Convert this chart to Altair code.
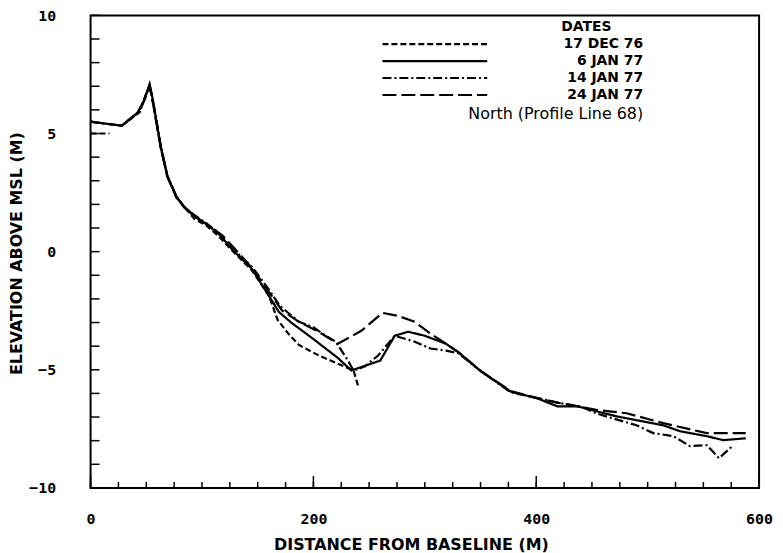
import altair as alt
import pandas as pd

# ---------------- data ----------------
DATES = ["17 DEC 76", "6 JAN 77", "14 JAN 77", "24 JAN 77"]

dec17_start_x = [0, 17]
dec17_start_y = [5.0, 5.0]
dec17_x = [28, 44, 50, 53, 56, 63, 69, 77, 84, 93, 104, 115, 127, 145, 160, 168, 178, 187, 205, 222, 236, 240]
dec17_y = [5.33, 5.9, 6.7, 7.0, 6.3, 4.4, 3.2, 2.3, 1.9, 1.4, 1.1, 0.65, 0.05, -0.8, -1.85, -2.9, -3.5, -3.95,
           -4.4, -4.74, -5.03, -5.66]

jan6_x = [0, 28, 42, 48, 53, 56, 63, 69, 77, 84, 93, 104, 115, 127, 145, 160, 169, 180, 200, 222, 234, 260, 273,
          285, 300, 319, 330, 350, 377, 401, 419, 437, 472, 514, 529, 553, 568, 588]
jan6_y = [5.5, 5.33, 5.87, 6.4, 7.1, 6.4, 4.44, 3.18, 2.34, 1.87, 1.5, 1.16, 0.75, 0.1, -0.74, -1.87, -2.55, -3.0,
          -3.7, -4.5, -5.03, -4.61, -3.56, -3.39, -3.56, -3.9, -4.25, -5.05, -5.92, -6.21, -6.55, -6.55, -6.97,
          -7.35, -7.6, -7.81, -7.98, -7.9]

jan14_x = [0, 28, 42, 48, 53, 56, 63, 69, 77, 84, 93, 104, 115, 127, 145, 160, 170, 187, 200, 211, 220, 231, 236,
           246, 258, 273, 291, 305, 319, 330, 350, 377, 401, 420, 440, 454, 490, 505, 523, 538, 553, 564, 577]
jan14_y = [5.5, 5.33, 5.85, 6.4, 7.05, 6.4, 4.5, 3.2, 2.35, 1.9, 1.55, 1.2, 0.8, 0.15, -0.65, -1.6, -2.3, -2.97,
           -3.2, -3.56, -3.81, -4.61, -5.03, -4.86, -4.4, -3.56, -3.81, -4.1, -4.19, -4.3, -5.05, -5.95, -6.2,
           -6.4, -6.55, -6.85, -7.35, -7.68, -7.81, -8.23, -8.19, -8.74, -8.19]

jan24_x = [0, 28, 44, 50, 53, 56, 63, 69, 77, 85, 95, 106, 118, 128, 145, 160, 172, 187, 205, 222, 243, 262, 276,
           291, 305, 319, 330, 350, 377, 401, 420, 454, 481, 514, 553, 588]
jan24_y = [5.5, 5.33, 5.95, 6.6, 7.0, 6.3, 4.4, 3.15, 2.3, 1.85, 1.45, 1.1, 0.7, 0.2, -0.7, -1.7, -2.5, -2.97,
           -3.4, -3.9, -3.35, -2.59, -2.72, -2.97, -3.47, -3.9, -4.25, -5.05, -5.9, -6.2, -6.4, -6.7, -6.84,
           -7.26, -7.68, -7.68]

X_MINOR_TICKS = list(range(0, 601, 25))
X_MAJOR_TICKS = [0, 200, 400, 600]
Y_TICKS = list(range(-10, 11, 1))
Y_LABELS = [-10, -5, 0, 5, 10]

# ---------------- build tables ----------------
rows = []
def add(date, seg, xs, ys):
    for i, (a, b) in enumerate(zip(xs, ys)):
        rows.append({"date": date, "seg": seg, "i": i, "x": a, "y": b})

add(DATES[0], "c0", dec17_start_x, dec17_start_y)
add(DATES[0], "c1", dec17_x, dec17_y)
add(DATES[1], "b", jan6_x, jan6_y)
add(DATES[2], "d", jan14_x, jan14_y)
add(DATES[3], "a", jan24_x, jan24_y)
df = pd.DataFrame(rows)

W, H = 672, 475
DASHES = [[6, 3], [1, 0], [9, 3, 2, 3], [14, 5]]
FONT_TICK = "DejaVu Sans Mono"
FONT_TXT = "DejaVu Sans"

xscale = alt.Scale(domain=[0, 600], nice=False, zero=False)
yscale = alt.Scale(domain=[-10, 10], nice=False, zero=False)
dash_scale = alt.Scale(domain=DATES, range=DASHES)

x_axis = alt.Axis(
    values=X_MAJOR_TICKS, ticks=False, tickSize=0, grid=False, domain=False,
    labelFont=FONT_TICK, labelFontWeight="bold", labelFontSize=15, labelColor="black",
    labelPadding=24, labelFlush=False,
    title="DISTANCE FROM BASELINE (M)", titleFont=FONT_TXT, titleFontWeight="bold",
    titleFontSize=16, titleColor="black", titleX=322, titleY=49, titleBaseline="top")
y_axis = alt.Axis(
    values=Y_LABELS, ticks=False, tickSize=0, grid=False, domain=False,
    labelFont=FONT_TICK, labelFontWeight="bold", labelFontSize=15, labelColor="black",
    labelPadding=35, labelAlign="right", labelFlush=False,
    title="ELEVATION ABOVE MSL (M)", titleFont=FONT_TXT, titleFontWeight="bold",
    titleFontSize=16, titleColor="black", titleX=-66, titleY=239)

def X(field):
    return alt.X(field, scale=xscale, axis=x_axis)

def Y(field):
    return alt.Y(field, scale=yscale, axis=y_axis)

lines = alt.Chart(df).mark_line(color="black", strokeWidth=2.2).encode(
    x=X("x:Q"),
    y=Y("y:Q"),
    strokeDash=alt.StrokeDash("date:N", scale=dash_scale, legend=None),
    detail="seg:N",
    order="i:Q",
)

# inward tick marks
xt_minor = alt.Chart(pd.DataFrame({"x": X_MINOR_TICKS})).mark_rule(color="black", strokeWidth=1.5).encode(
    x=X("x:Q"), y=alt.value(H), y2=alt.value(H - 6))
xt_major = alt.Chart(pd.DataFrame({"x": X_MAJOR_TICKS})).mark_rule(color="black", strokeWidth=1.5).encode(
    x=X("x:Q"), y=alt.value(H), y2=alt.value(H - 12))
yt = alt.Chart(pd.DataFrame({"y": Y_TICKS})).mark_rule(color="black", strokeWidth=1.5).encode(
    y=Y("y:Q"), x=alt.value(0), x2=alt.value(9))

# legend (positions in data units of the plot)
LEG_X0, LEG_X1, LEG_TX = 262, 356, 496
LEG_ROWS_Y = [8.78, 8.06, 7.35, 6.63]
leg = pd.DataFrame({"date": DATES, "x0": [LEG_X0] * 4, "x1": [LEG_X1] * 4,
                    "tx": [LEG_TX] * 4, "y": LEG_ROWS_Y})
leg_lines = alt.Chart(leg).mark_rule(color="black", strokeWidth=2.2).encode(
    x=X("x0:Q"), x2="x1:Q", y=Y("y:Q"),
    strokeDash=alt.StrokeDash("date:N", scale=dash_scale, legend=None))
leg_text = alt.Chart(leg).mark_text(align="right", baseline="middle", font=FONT_TXT, fontWeight="bold",
                                    fontSize=14, color="black").encode(
    x=X("tx:Q"), y=Y("y:Q"), text="date:N")
head = pd.DataFrame({"t": ["DATES"], "x": [445], "y": [9.52]})
leg_head = alt.Chart(head).mark_text(align="center", baseline="middle", font=FONT_TXT, fontWeight="bold",
                                     fontSize=14, color="black").encode(
    x=X("x:Q"), y=Y("y:Q"), text="t:N")
note = pd.DataFrame({"t": ["North (Profile Line 68)"], "x": [LEG_TX], "y": [5.83]})
leg_note = alt.Chart(note).mark_text(align="right", baseline="middle", font=FONT_TXT, fontSize=16,
                                     color="black").encode(
    x=X("x:Q"), y=Y("y:Q"), text="t:N")

chart = alt.layer(lines, xt_minor, xt_major, yt, leg_lines, leg_text, leg_head, leg_note).properties(
    width=W, height=H,
    autosize=alt.AutoSizeParams(type="none"),
    padding={"left": 83, "top": 6, "right": 16, "bottom": 64},
    background="white",
).configure_view(stroke="black", strokeWidth=2)

chart.save("out.html", embed_options={"renderer": "svg", "actions": False})
